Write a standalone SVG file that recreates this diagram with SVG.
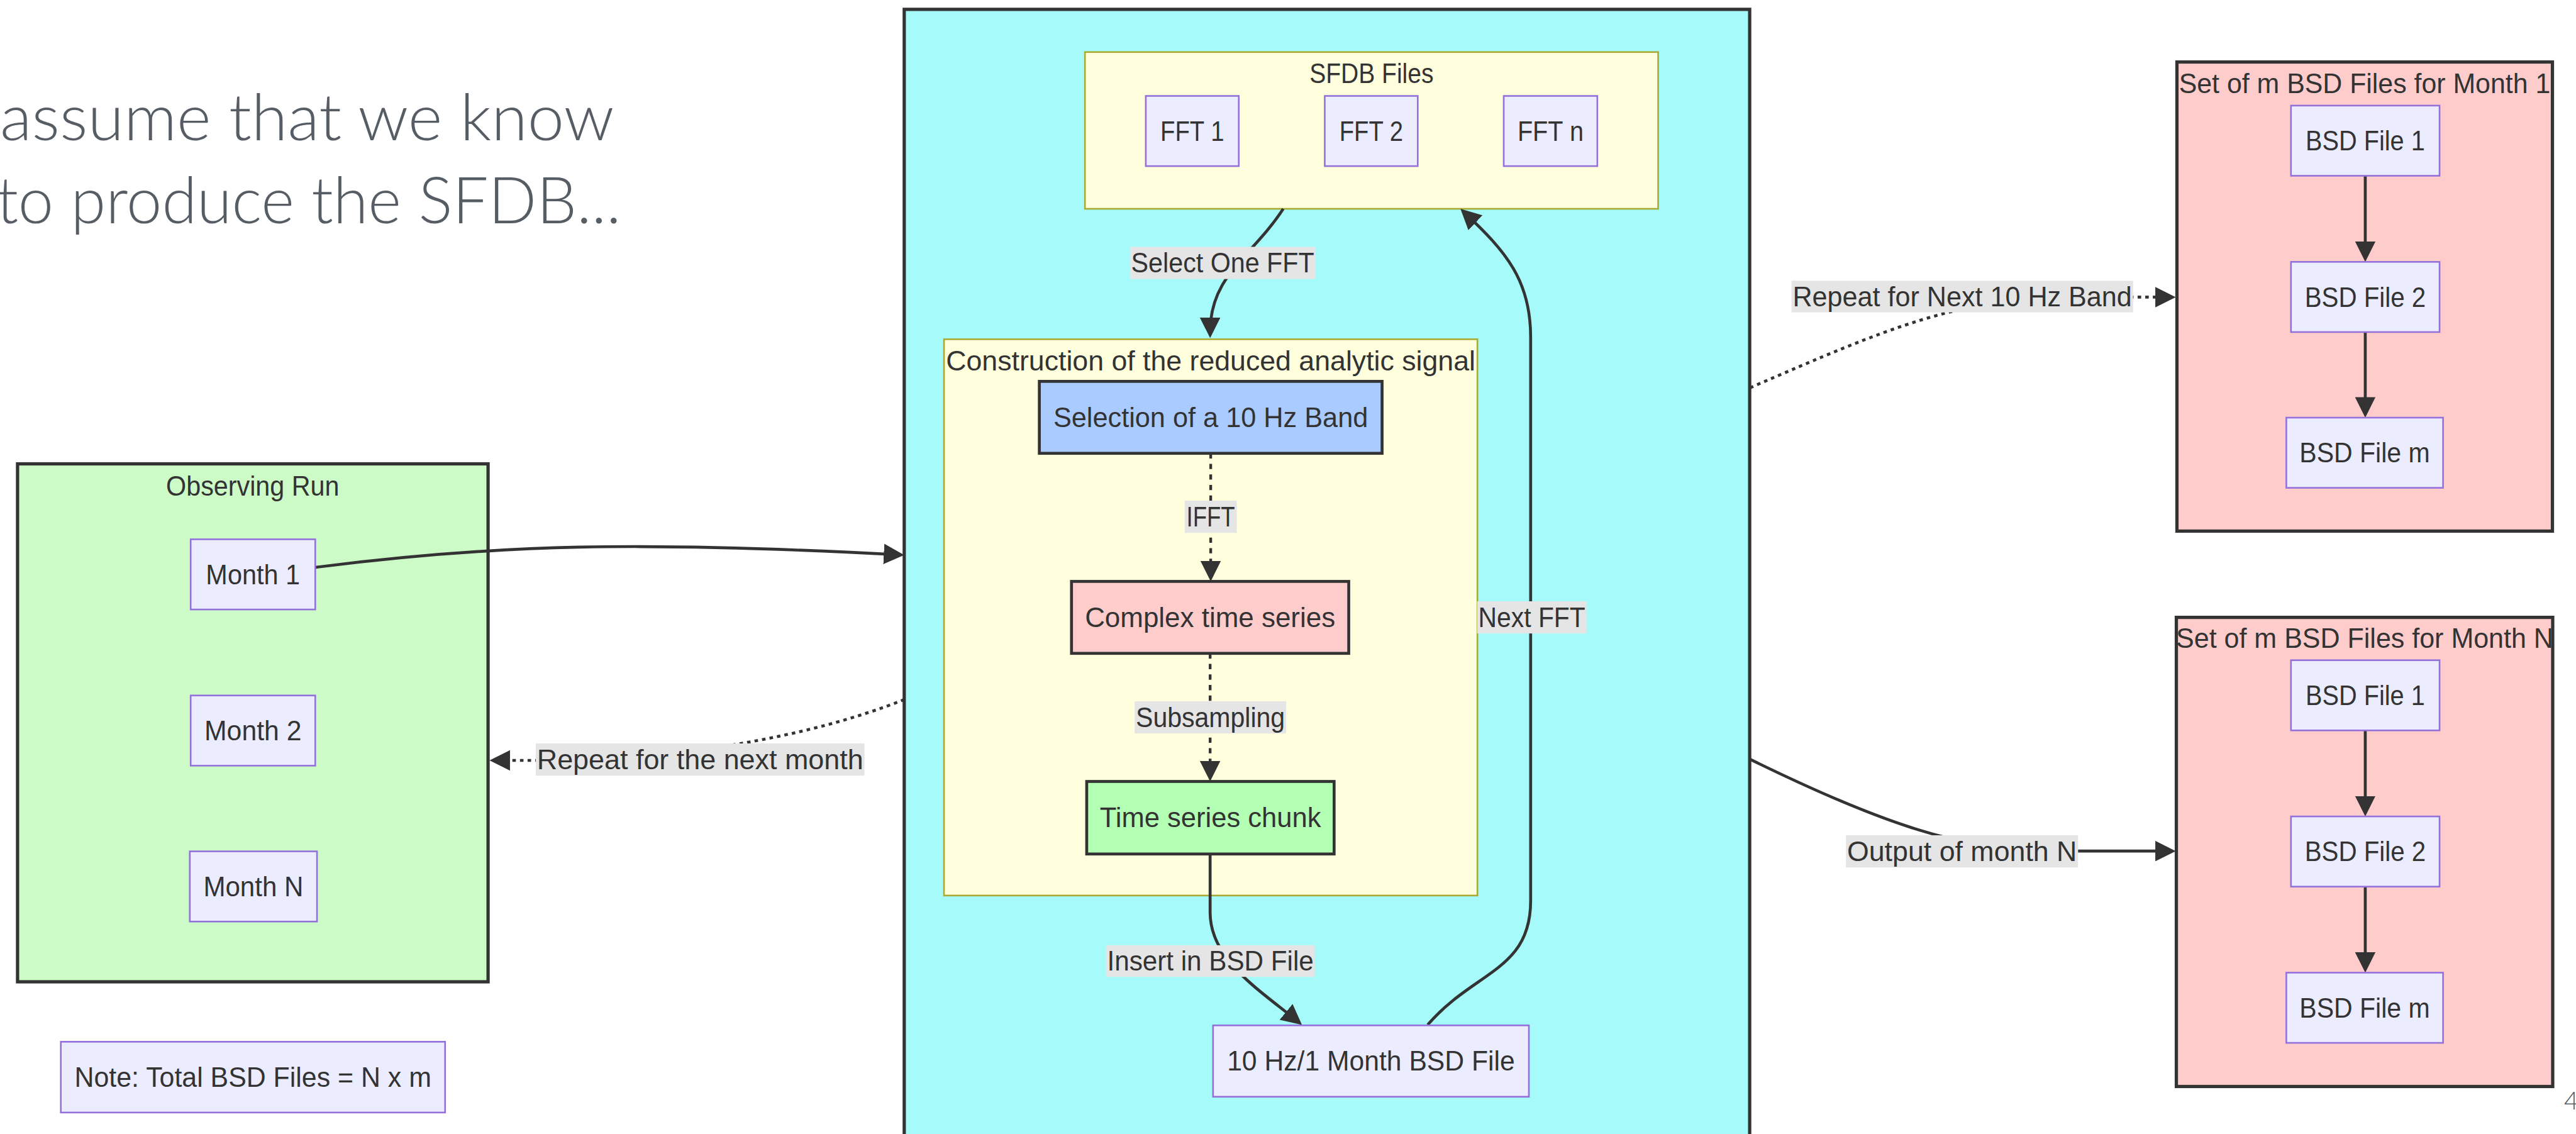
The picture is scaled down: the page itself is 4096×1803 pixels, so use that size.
<svg xmlns="http://www.w3.org/2000/svg" width="4096" height="1803" viewBox="0 0 4096 1803">
<defs>
<style>
.t{font-family:"Liberation Sans",Arial,sans-serif;font-size:47px;fill:#333;text-anchor:middle}
.node{fill:#ececff;stroke:#9370db;stroke-width:2.8}
.thick{stroke:#333;stroke-width:5}
.cl-yellow{fill:#ffffde;stroke:#aaaa33;stroke-width:2.8}
.cl-dark{stroke:#333;stroke-width:5.6}
.edge{fill:none;stroke:#333;stroke-width:5}
.dash{stroke-dasharray:9 9;stroke-width:4.7}
.dot{stroke-dasharray:6 7;stroke-width:5}
.lbl{fill:#e5e5e5}
.page{font-family:Lato,"Liberation Sans",sans-serif;font-weight:300;fill:#565d64}
</style>
<marker id="arrow" viewBox="0 0 10 10" refX="7" refY="5" markerWidth="35" markerHeight="35" markerUnits="userSpaceOnUse" orient="auto"><path d="M0,0 L10,5 L0,10 z" fill="#333"/></marker>
</defs>
<rect x="0" y="0" width="4096" height="1803" fill="#ffffff"/>
<g transform="scale(0.93)">
<g id="page-text">
<text class="page" x="0" y="240" font-size="110" textLength="1050" lengthAdjust="spacingAndGlyphs">assume that we know</text>
<text class="page" x="-6" y="382" font-size="110" textLength="1068" lengthAdjust="spacingAndGlyphs">to produce the SFDB...</text>
<text class="page" x="4384" y="1897" font-size="43">4</text>
</g>
<g id="cluster-observing-run">
<rect class="cl-dark" x="30" y="793" width="804.5" height="885.5" fill="#ccfbc8"/>
<text class="t" x="432" y="847" textLength="296" lengthAdjust="spacingAndGlyphs">Observing Run</text>
</g>
<g id="cluster-process">
<rect class="cl-dark" x="1546" y="16" width="1445.5" height="1960" fill="#a6fafa"/>
</g>
<g id="cluster-sfdb">
<rect class="cl-yellow" x="1855" y="89" width="980" height="268"/>
<text class="t" x="2345" y="142" textLength="212" lengthAdjust="spacingAndGlyphs">SFDB Files</text>
</g>
<g id="cluster-construction">
<rect class="cl-yellow" x="1614" y="580" width="912" height="951"/>
<text class="t" x="2070" y="633" textLength="905" lengthAdjust="spacingAndGlyphs">Construction of the reduced analytic signal</text>
</g>
<g id="cluster-month1">
<rect class="cl-dark" x="3722" y="106" width="642" height="802" fill="#ffcccc"/>
<text class="t" x="4043" y="159" textLength="635" lengthAdjust="spacingAndGlyphs">Set of m BSD Files for Month 1</text>
</g>
<g id="cluster-monthN">
<rect class="cl-dark" x="3721" y="1055.5" width="643.5" height="802" fill="#ffcccc"/>
<text class="t" x="4043" y="1108" textLength="645" lengthAdjust="spacingAndGlyphs">Set of m BSD Files for Month N</text>
</g>
<g id="connectors">
<path class="edge" d="M539,970 C850,930 1100,925 1535.5,948.4" marker-end="url(#arrow)"/>
<path class="edge" d="M2194,357 C2140,440 2069,470 2069,567.5" marker-end="url(#arrow)"/>
<path class="edge dash" d="M2070,775 L2070,983.5" marker-end="url(#arrow)"/>
<path class="edge dash" d="M2069,1117 L2069,1325.5" marker-end="url(#arrow)"/>
<path class="edge" d="M2069,1460 L2069,1560 C2069,1640 2150,1690 2217.9,1745.4" marker-end="url(#arrow)"/>
<path class="edge" d="M2441,1752 C2520,1660 2617,1660 2617,1540 L2617,576 C2617,480 2575,430 2504.7,364.2" marker-end="url(#arrow)"/>
<path class="edge dot" d="M1546,1196 C1380,1262 1150,1300 920,1300 L847.5,1300" marker-end="url(#arrow)"/>
<path class="edge dot" d="M2992,663 C3230,560 3350,508 3550,508 L3709.5,508" marker-end="url(#arrow)"/>
<path class="edge" d="M2992,1298 C3200,1400 3350,1455 3500,1455 L3709.5,1455" marker-end="url(#arrow)"/>
<path class="edge" d="M4044,300.4 L4044,437.2" marker-end="url(#arrow)"/>
<path class="edge" d="M4044,567.7 L4044,703.5" marker-end="url(#arrow)"/>
<path class="edge" d="M4044,1248.7 L4044,1385.3" marker-end="url(#arrow)"/>
<path class="edge" d="M4044,1515.8 L4044,1652.4" marker-end="url(#arrow)"/>
</g>
<g id="edge-labels">
<rect class="lbl" x="1932" y="422" width="317" height="55"/>
<text class="t" x="2090.5" y="466" textLength="313" lengthAdjust="spacingAndGlyphs">Select One FFT</text>
<rect class="lbl" x="2025.5" y="856" width="89" height="55"/>
<text class="t" x="2070" y="900" textLength="83" lengthAdjust="spacingAndGlyphs">IFFT</text>
<rect class="lbl" x="1940" y="1199" width="259" height="55"/>
<text class="t" x="2069.5" y="1243" textLength="255" lengthAdjust="spacingAndGlyphs">Subsampling</text>
<rect class="lbl" x="1891" y="1616" width="357" height="54"/>
<text class="t" x="2069.5" y="1659.5" textLength="353" lengthAdjust="spacingAndGlyphs">Insert in BSD File</text>
<rect class="lbl" x="2525.5" y="1028" width="187" height="55"/>
<text class="t" x="2619" y="1072" textLength="183" lengthAdjust="spacingAndGlyphs">Next FFT</text>
<rect class="lbl" x="916" y="1271" width="562" height="55"/>
<text class="t" x="1197" y="1315" textLength="558" lengthAdjust="spacingAndGlyphs">Repeat for the next month</text>
<rect class="lbl" x="3063" y="480" width="584" height="54"/>
<text class="t" x="3355" y="523.5" textLength="580" lengthAdjust="spacingAndGlyphs">Repeat for Next 10 Hz Band</text>
<rect class="lbl" x="3156" y="1428" width="397" height="55"/>
<text class="t" x="3354.5" y="1472" textLength="393" lengthAdjust="spacingAndGlyphs">Output of month N</text>
</g>
<g id="node-month1"><rect class="node" x="326" y="922" width="213" height="120"/><text class="t" x="432.5" y="998.5" textLength="161" lengthAdjust="spacingAndGlyphs">Month 1</text></g>
<g id="node-month2"><rect class="node" x="326" y="1189" width="213" height="120"/><text class="t" x="432.5" y="1265.5" textLength="166" lengthAdjust="spacingAndGlyphs">Month 2</text></g>
<g id="node-monthN"><rect class="node" x="324.5" y="1455.5" width="217.5" height="120"/><text class="t" x="433.25" y="1532" textLength="171" lengthAdjust="spacingAndGlyphs">Month N</text></g>
<g id="node-note"><rect class="node" x="104" y="1781" width="657" height="121"/><text class="t" x="432.5" y="1858" textLength="610" lengthAdjust="spacingAndGlyphs">Note: Total BSD Files = N x m</text></g>
<g id="node-fft1"><rect class="node" x="1959" y="164" width="159" height="120"/><text class="t" x="2038.5" y="240.5" textLength="109" lengthAdjust="spacingAndGlyphs">FFT 1</text></g>
<g id="node-fft2"><rect class="node" x="2265" y="164" width="159" height="120"/><text class="t" x="2344.5" y="240.5" textLength="109" lengthAdjust="spacingAndGlyphs">FFT 2</text></g>
<g id="node-fftn"><rect class="node" x="2571" y="164" width="160" height="120"/><text class="t" x="2651" y="240.5" textLength="113" lengthAdjust="spacingAndGlyphs">FFT n</text></g>
<g id="node-selection"><rect class="thick" x="1777" y="652" width="586" height="123" fill="#a9cbff"/><text class="t" x="2070" y="730" textLength="538" lengthAdjust="spacingAndGlyphs">Selection of a 10 Hz Band</text></g>
<g id="node-complex"><rect class="thick" x="1832" y="994" width="474" height="123" fill="#ffcccc"/><text class="t" x="2069" y="1072" textLength="428" lengthAdjust="spacingAndGlyphs">Complex time series</text></g>
<g id="node-chunk"><rect class="thick" x="1858" y="1336" width="423" height="124" fill="#b3ffb3"/><text class="t" x="2069.5" y="1414.5" textLength="378" lengthAdjust="spacingAndGlyphs">Time series chunk</text></g>
<g id="node-bsdfile"><rect class="node" x="2074" y="1753" width="540" height="122"/><text class="t" x="2344" y="1830.5" textLength="492" lengthAdjust="spacingAndGlyphs">10 Hz/1 Month BSD File</text></g>
<g id="node-m1-bsd1"><rect class="node" x="3917" y="180.5" width="254" height="120"/><text class="t" x="4044" y="257" textLength="204" lengthAdjust="spacingAndGlyphs">BSD File 1</text></g>
<g id="node-m1-bsd2"><rect class="node" x="3917" y="447.7" width="254" height="120"/><text class="t" x="4044" y="524.2" textLength="207" lengthAdjust="spacingAndGlyphs">BSD File 2</text></g>
<g id="node-m1-bsdm"><rect class="node" x="3909" y="714" width="268" height="120"/><text class="t" x="4043" y="790.5" textLength="223" lengthAdjust="spacingAndGlyphs">BSD File m</text></g>
<g id="node-mN-bsd1"><rect class="node" x="3917" y="1128.7" width="254" height="120"/><text class="t" x="4044" y="1205.2" textLength="204" lengthAdjust="spacingAndGlyphs">BSD File 1</text></g>
<g id="node-mN-bsd2"><rect class="node" x="3917" y="1395.8" width="254" height="120"/><text class="t" x="4044" y="1472.3" textLength="207" lengthAdjust="spacingAndGlyphs">BSD File 2</text></g>
<g id="node-mN-bsdm"><rect class="node" x="3909" y="1662.9" width="268" height="120"/><text class="t" x="4043" y="1739.4" textLength="223" lengthAdjust="spacingAndGlyphs">BSD File m</text></g>
</g>
</svg>
